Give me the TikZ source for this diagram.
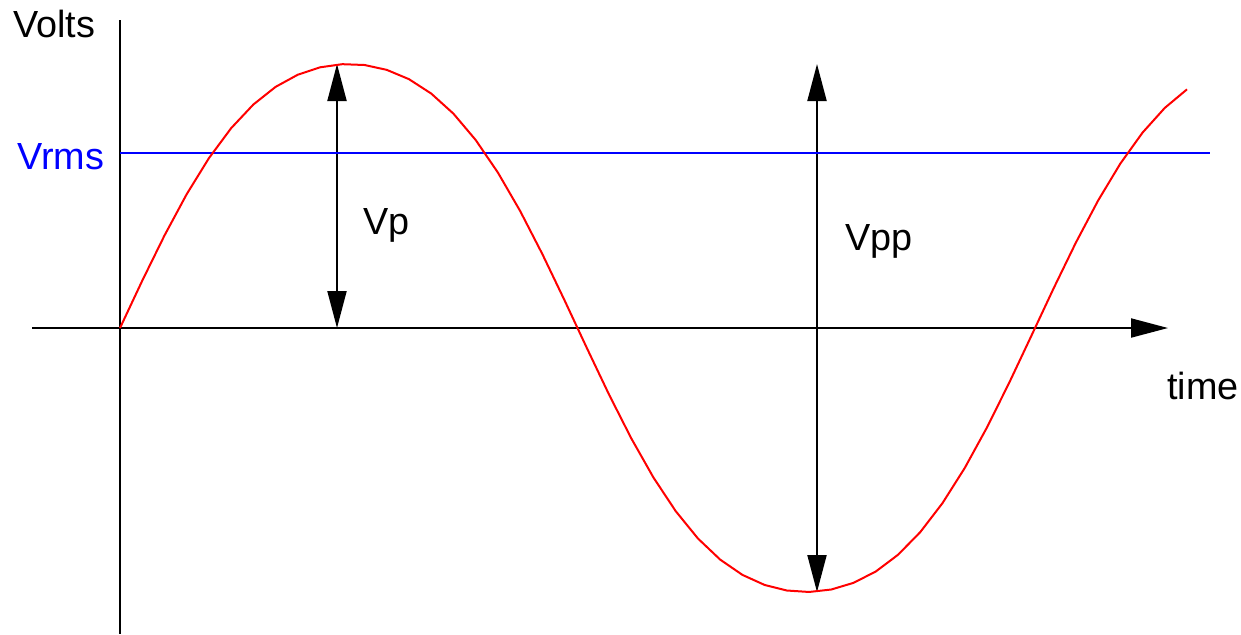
\documentclass[tikz,border=0pt]{standalone}
\usepackage{fontspec}
\setmainfont{Liberation Sans}
\usetikzlibrary{arrows.meta}
\begin{document}
\begin{tikzpicture}[x=0.5pt,y=-0.5pt,
  axis/.style={line width=1pt,black},
  tipped/.style={line width=1pt,black,-{Triangle[length=18.5pt,width=9.5pt]}},
  dbl/.style={line width=1pt,black,{Triangle[length=18.5pt,width=9.5pt]}-{Triangle[length=18.5pt,width=9.5pt]}},
  lbl/.style={inner sep=0pt,anchor=base west,font=\fontsize{18.9}{22}\selectfont},
  wave/.style={line width=1pt,red},
  rms/.style={line width=1pt,blue}]
\useasboundingbox (0,0) rectangle (1241,634);
\coordinate (ytop) at (120,20);
\coordinate (ybot) at (120,634);
\coordinate (xl) at (32,328);
\coordinate (xr) at (1168,328);
\coordinate (rl) at (120,153);
\coordinate (rr) at (1210,153);
\coordinate (pt) at (337,64);
\coordinate (pb) at (337,328);
\coordinate (qt) at (817,64);
\coordinate (qb) at (817,592);
\draw[axis] (ytop) -- (ybot);
\draw[tipped] (xl) -- (xr);
\draw[dbl] (pb) -- (pt);
\draw[dbl] (qb) -- (qt);
\draw[rms] (rl) -- (rr);
\draw[wave] plot[domain=0:419.8,samples=49]
  ({120+\x/90*228.75},{328-264*sin(\x)*(1+0.182*(1-sin(\x)*sin(\x)))});
\node[lbl] (volts) at (13,37) {Volts};
\node[lbl,text=blue] (vrms) at (17,169) {Vrms};
\node[lbl] (vp) at (363,234) {Vp};
\node[lbl] (vpp) at (845,250) {Vpp};
\node[lbl] (time) at (1167,399) {time};
\end{tikzpicture}
\end{document}
